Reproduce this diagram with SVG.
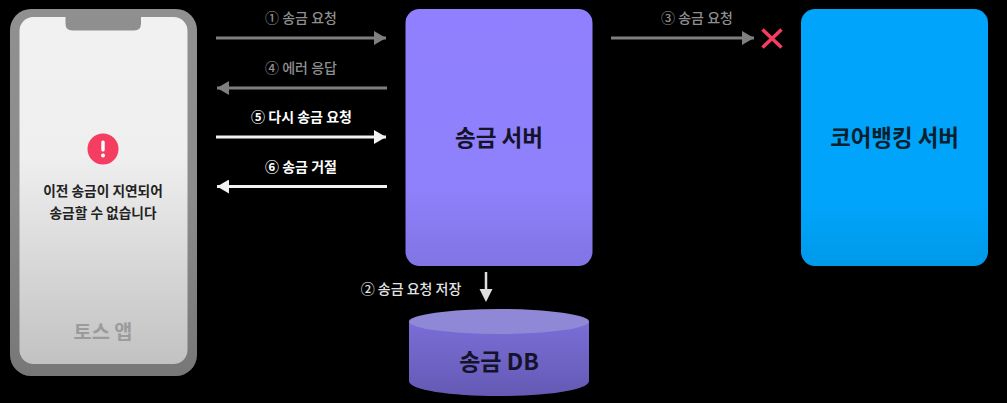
<svg xmlns="http://www.w3.org/2000/svg" width="1007" height="403" viewBox="0 0 1007 403">
<style>
text{font-family:"Noto Sans CJK KR","Noto Sans",sans-serif;text-anchor:middle}
.b{font-weight:700}
.lg{font-size:14px;font-weight:500;fill:#8f8f8f}
.lw{font-size:14px;font-weight:700;fill:#fff}
.gl{stroke:#7f7f7f;stroke-width:3;fill:none}
.wl{stroke:#f2f2f2;stroke-width:3;fill:none}
</style>
<defs>
<linearGradient id="frame" x1="0" y1="0" x2="0" y2="1"><stop offset="0" stop-color="#909090"/><stop offset="0.5" stop-color="#8c8c8c"/><stop offset="1" stop-color="#777"/></linearGradient>
<linearGradient id="screen" x1="0" y1="0" x2="0" y2="1"><stop offset="0" stop-color="#f1f1f1"/><stop offset="0.4" stop-color="#efefef"/><stop offset="1" stop-color="#c2c2c2"/></linearGradient>
<linearGradient id="purple" x1="0" y1="0" x2="0" y2="1"><stop offset="0" stop-color="#9080ff"/><stop offset="0.7" stop-color="#8f80fb"/><stop offset="1" stop-color="#8174e4"/></linearGradient>
<linearGradient id="blue" x1="0" y1="0" x2="0" y2="1"><stop offset="0" stop-color="#00a5fb"/><stop offset="0.75" stop-color="#00a5fb"/><stop offset="1" stop-color="#0099ea"/></linearGradient>
<linearGradient id="cyl" x1="0" y1="0" x2="0" y2="1"><stop offset="0" stop-color="#7a6ed8"/><stop offset="1" stop-color="#6559b4"/></linearGradient>
<marker id="ag" markerUnits="userSpaceOnUse" markerWidth="13" markerHeight="14" refX="12" refY="7" orient="auto"><path d="M0 0L12 7L0 14z" fill="#7f7f7f"/></marker>
<marker id="aw" markerUnits="userSpaceOnUse" markerWidth="13" markerHeight="14" refX="12" refY="7" orient="auto"><path d="M0 0L12 7L0 14z" fill="#f2f2f2"/></marker>
</defs>
<rect width="1007" height="403" fill="#000"/>
<g id="phone">
<rect x="10" y="9" width="187" height="367" rx="21" fill="url(#frame)"/>
<rect x="19.500" y="17" width="168" height="347" rx="14" fill="url(#screen)"/>
<path d="M65.500 17H141V23.500Q141 30.500 134 30.500H72.500Q65.500 30.500 65.500 23.500z" fill="#8f8f8f"/>
<circle cx="103" cy="149" r="15.500" fill="#f53d62"/>
<rect x="101.300" y="140.500" width="3.400" height="11" rx="1.500" fill="#fff"/>
<circle cx="103" cy="155.500" r="2" fill="#fff"/>
<text class="b" x="103" y="196" font-size="13.700" fill="#222">이전 송금이 지연되어</text>
<text class="b" x="103" y="218" font-size="13.700" fill="#222">송금할 수 없습니다</text>
<text class="b" x="103" y="339" font-size="19.700" fill="#9b9b9b">토스 앱</text>
</g>
<g id="server">
<rect x="405.500" y="9" width="187" height="257" rx="14" fill="url(#purple)"/>
<text class="b" x="499" y="146" font-size="22.500" fill="#15132a">송금 서버</text>
</g>
<g id="core">
<rect x="801" y="9" width="187" height="257" rx="14" fill="url(#blue)"/>
<text class="b" x="894.500" y="146" font-size="22.400" fill="#06202e">코어뱅킹 서버</text>
</g>
<g id="db">
<path d="M409 321V381C409 390 450 396 499 396S589 390 589 381V321z" fill="url(#cyl)"/>
<ellipse cx="499" cy="321.500" rx="90" ry="12.500" fill="#8f88d6"/>
<text class="b" x="499" y="370" font-size="23" fill="#15132a">송금 DB</text>
</g>
<g id="connectors">
<path class="gl" d="M216 38H386" marker-end="url(#ag)"/>
<path class="gl" d="M387 88H217" marker-end="url(#ag)"/>
<path class="wl" d="M216 137H386" marker-end="url(#aw)"/>
<path class="wl" d="M387 186.500H217" marker-end="url(#aw)"/>
<path class="gl" d="M611 38H754" marker-end="url(#ag)"/>
<path d="M486 272V295" stroke="#dedede" stroke-width="2.500" fill="none"/>
<path d="M479.500 289L486 302L492.500 289z" fill="#dedede"/>
<path d="M762.500 29.500L781.500 47.500M781.500 29.500L762.500 47.500" stroke="#f53d62" stroke-width="3.500" fill="none"/>
</g>
<g id="labels">
<text class="lg" x="301" y="23">① 송금 요청</text>
<text class="lg" x="301" y="72.500">④ 에러 응답</text>
<text class="lw" x="301.500" y="122">⑤ 다시 송금 요청</text>
<text class="lw" x="301" y="172">⑥ 송금 거절</text>
<text class="lg" x="697" y="22.500">③ 송금 요청</text>
<text x="411" y="294" font-size="14" font-weight="500" fill="#e4e4e4">② 송금 요청 저장</text>
</g>
</svg>
